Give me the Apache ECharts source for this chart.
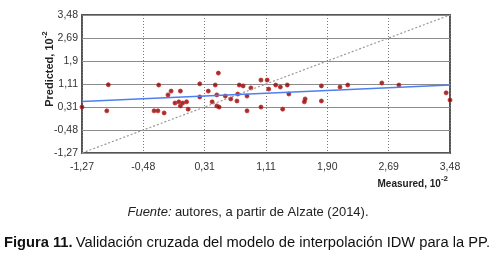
<!DOCTYPE html>
<html>
<head>
<meta charset="utf-8">
<script src="https://cdn.jsdelivr.net/npm/echarts@6/dist/echarts.min.js"></script>
<style>
  html, body { margin: 0; padding: 0; background: #fff; }
  #main { width: 496px; height: 259px; }
</style>
</head>
<body>
<div id="main"></div>
<script>
// axis from -1,27 to 3,48 in 6 equal steps
var AXIS_MIN = -1.27;
var AXIS_MAX = 3.48;
var STEP = (AXIS_MAX - AXIS_MIN) / 6;
var xTickLabels = ['-1,27', '-0,48', '0,31', '1,11', '1,90', '2,69', '3,48'];
var yTickLabels = ['-1,27', '-0,48', '0,31', '1,11', '1,9', '2,69', '3,48'];

// measured / predicted points
var measured = [-1.27, -0.93, -0.95, -0.34, -0.29, -0.28, -0.21, -0.16, -0.12, -0.07,
  -0.02, 0.0, 0.0, 0.03, 0.08, 0.10, 0.25, 0.25, 0.36, 0.41,
  0.45, 0.49, 0.47, 0.47, 0.50, 0.58, 0.65, 0.73, 0.74, 0.76,
  0.81, 0.86, 0.86, 0.91, 1.04, 1.04, 1.12, 1.14, 1.23, 1.29,
  1.38, 1.32, 1.40, 1.61, 1.60, 1.82, 1.82, 2.06, 2.16, 2.60,
  2.82, 3.43, 3.48];
var predicted = [0.31, 1.08, 0.18, 0.18, 0.18, 1.07, 0.11, 0.73, 0.86, 0.45,
  0.49, 0.35, 0.86, 0.45, 0.49, 0.24, 1.11, 0.66, 0.86, 0.49,
  1.07, 1.48, 0.73, 0.35, 0.31, 0.69, 0.59, 0.52, 0.76, 1.07,
  1.04, 0.69, 0.18, 0.97, 1.24, 0.31, 1.24, 0.93, 1.07, 1.00,
  1.07, 0.24, 0.76, 0.59, 0.49, 1.04, 0.52, 1.00, 1.07, 1.14,
  1.07, 0.80, 0.55];

// fitted line and 1:1 line
var fitX = [-1.27, 3.48];
var fitY = [0.50, 1.07];
var diagX = [-1.27, 3.48];
var diagY = [-1.27, 3.48];

function u(v) { return (v - AXIS_MIN) / STEP; }
function pairs(xs, ys) {
  return xs.map(function (x, i) { return [u(x), u(ys[i])]; });
}

var chart = echarts.init(document.getElementById('main'));
var narrow = '"Liberation Sans Narrow", "Arial Narrow", "Liberation Sans", sans-serif';
var arial = '"Liberation Sans", Arial, sans-serif';

var option = {
  animation: false,
  grid: {
    left: 82, right: 46, top: 15, bottom: 106,
    show: true, borderColor: '#555', borderWidth: 2, backgroundColor: 'transparent'
  },
  xAxis: {
    type: 'value', min: 0, max: 6, interval: 1,
    axisLine: { show: false }, axisTick: { show: false },
    axisLabel: {
      margin: 9, color: '#333', fontSize: 10.5, fontFamily: narrow,
      formatter: function (v) { return xTickLabels[Math.round(v)]; }
    },
    splitLine: { lineStyle: { color: '#777', type: [1, 2], width: 1 } }
  },
  yAxis: {
    type: 'value', min: 0, max: 6, interval: 1,
    axisLine: { show: false }, axisTick: { show: false },
    axisLabel: {
      margin: 4, color: '#333', fontSize: 10.5, fontFamily: narrow,
      formatter: function (v) { return yTickLabels[Math.round(v)]; }
    },
    splitLine: { lineStyle: { color: '#8c8c8c', width: 1 } }
  },
  series: [
    {
      type: 'line', data: pairs(diagX, diagY), symbol: 'none',
      lineStyle: { color: '#999', width: 1.2, type: [2, 2] }
    },
    {
      type: 'line', data: pairs(fitX, fitY), symbol: 'none',
      lineStyle: { color: '#4d7ff0', width: 1.5 }
    },
    {
      type: 'scatter', data: pairs(measured, predicted),
      symbol: 'circle', symbolSize: 4,
      itemStyle: { color: '#6e0808', borderColor: '#d42020', borderWidth: 1 }
    }
  ],
  graphic: [
    {
      type: 'text', x: 448, y: 182,
      style: {
        text: '{a|Measured, 10}{s|-2}', align: 'right', verticalAlign: 'middle',
        rich: {
          a: { fontSize: 10, fontWeight: 'bold', fontFamily: narrow, fill: '#222', lineHeight: 14, verticalAlign: 'bottom' },
          s: { fontSize: 8, fontWeight: 'bold', fontFamily: narrow, fill: '#222', verticalAlign: 'top' }
        }
      }
    },
    {
      type: 'text', x: 48, y: 69, rotation: Math.PI / 2,
      style: {
        text: '{a|Predicted, 10}{s|-2}', align: 'center', verticalAlign: 'middle',
        rich: {
          a: { fontSize: 11, fontWeight: 'bold', fontFamily: narrow, fill: '#222', lineHeight: 14, verticalAlign: 'bottom' },
          s: { fontSize: 8, fontWeight: 'bold', fontFamily: narrow, fill: '#222', verticalAlign: 'top' }
        }
      }
    },
    {
      type: 'text', x: 248, y: 212,
      style: {
        text: '{i|Fuente:} {n|autores, a partir de Alzate (2014).}',
        align: 'center', verticalAlign: 'middle',
        rich: {
          i: { fontSize: 13, fontStyle: 'italic', fontFamily: arial, fill: '#222' },
          n: { fontSize: 13, fontFamily: arial, fill: '#222' }
        }
      }
    },
    {
      type: 'text', x: 247, y: 243,
      style: {
        text: '{b|Figura 11.} {n|Validación cruzada del modelo de interpolación IDW para la PP.}',
        align: 'center', verticalAlign: 'middle',
        rich: {
          b: { fontSize: 14.7, fontWeight: 'bold', fontFamily: arial, fill: '#111' },
          n: { fontSize: 14.7, fontFamily: arial, fill: '#111' }
        }
      }
    }
  ]
};

chart.setOption(option);
</script>
</body>
</html>
